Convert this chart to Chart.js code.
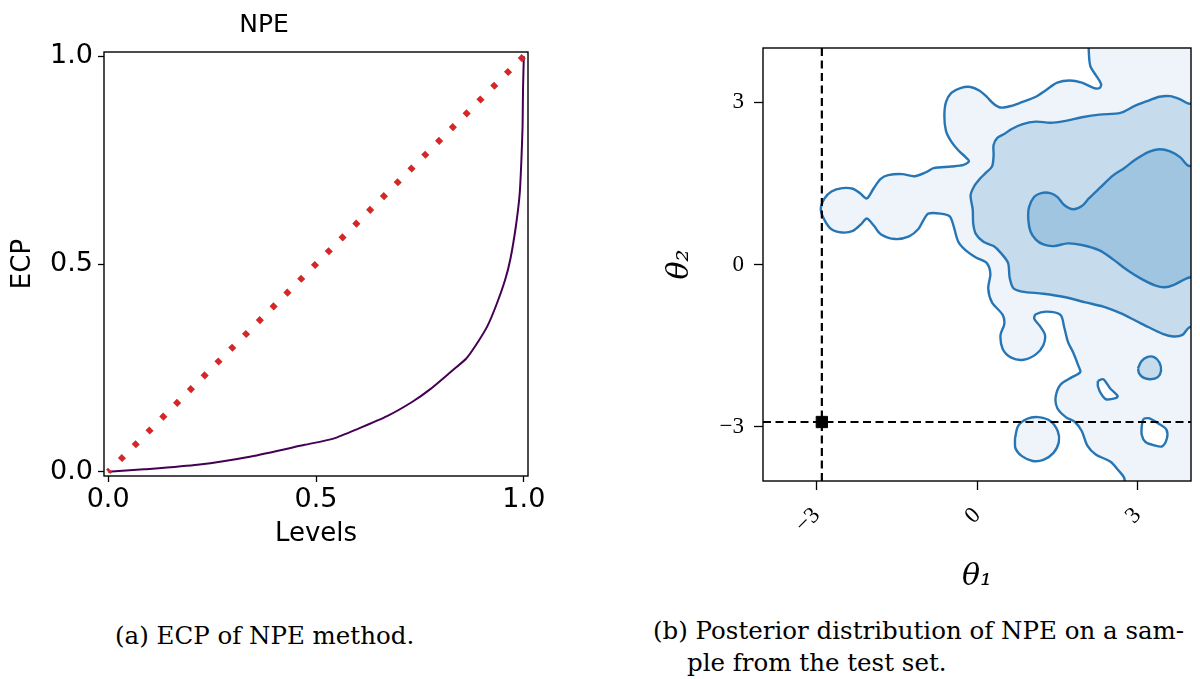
<!DOCTYPE html>
<html>
<head>
<meta charset="utf-8">
<script src="https://cdn.jsdelivr.net/npm/chart.js@4.4.1/dist/chart.umd.min.js"></script>
<style>
  body { margin: 0; background: #fff; width: 1200px; height: 679px; overflow: hidden; position: relative; }
  canvas { position: absolute; }
  #ecp { left: 0; top: 0; }
  #post { left: 600px; top: 0; }
  .cap { position: absolute; font-family: 'DejaVu Serif', serif; font-size: 24.5px; color: #000; line-height: 32px; white-space: nowrap; }
  #capB { padding-left: 34px; text-indent: -34px; }
</style>
</head>
<body>
<canvas id="ecp" width="560" height="560"></canvas>
<canvas id="post" width="600" height="600"></canvas>
<div class="cap" id="capA" style="left:115px; top:620px;">(a) ECP of NPE method.</div>
<div class="cap" id="capB" style="left:653px; top:615px;">(b) Posterior distribution of NPE on a sam-<br>ple from the test set.</div>
<script>
// ---- panel (a): expected coverage ----
const levels = [0, 0.086, 0.215, 0.344, 0.473, 0.542, 0.602, 0.671, 0.731, 0.775, 0.826, 0.861, 0.886,
                0.912, 0.934, 0.955, 0.968, 0.981, 0.990, 0.994, 0.997, 0.998, 1.0];
const ecp = [0, 0.006, 0.017, 0.037, 0.065, 0.080, 0.104, 0.134, 0.168, 0.199, 0.242, 0.272, 0.307,
             0.350, 0.402, 0.462, 0.514, 0.592, 0.669, 0.747, 0.833, 0.920, 1.0];
const diagonal = [0, 1];
const ecpTicks = [0, 0.5, 1];

// ---- panel (b): posterior contours, [theta1, theta2] ----
const outerRing = [[2.09,4.3],[2.09,3.93],[2.12,3.66],[2.22,3.50],[2.32,3.33],[2.29,3.26],[2.19,3.26],[1.96,3.36],
  [1.73,3.40],[1.50,3.36],[1.30,3.23],[1.10,3.10],[0.84,3.00],[0.64,2.93],[0.44,2.90],[0.31,2.97],[0.18,3.10],
  [0.05,3.21],[-0.12,3.28],[-0.31,3.26],[-0.48,3.17],[-0.58,3.00],[-0.61,2.74],[-0.58,2.47],[-0.48,2.27],
  [-0.35,2.11],[-0.21,1.98],[-0.15,1.91],[-0.25,1.84],[-0.48,1.81],[-0.81,1.78],[-0.94,1.71],[-1.17,1.63],
  [-1.40,1.67],[-1.66,1.65],[-1.80,1.58],[-1.93,1.41],[-2.06,1.22],[-2.19,1.32],[-2.32,1.40],[-2.52,1.41],
  [-2.72,1.35],[-2.85,1.22],[-2.92,1.02],[-2.85,0.82],[-2.72,0.65],[-2.52,0.59],[-2.32,0.62],[-2.16,0.75],
  [-2.06,0.85],[-1.93,0.72],[-1.80,0.56],[-1.53,0.47],[-1.27,0.52],[-1.10,0.65],[-1.00,0.82],[-0.91,0.94],
  [-0.68,0.94],[-0.51,0.89],[-0.44,0.72],[-0.35,0.42],[-0.21,0.26],[-0.02,0.13],[0.18,0.03],[0.25,-0.17],
  [0.21,-0.44],[0.28,-0.70],[0.48,-0.93],[0.51,-1.10],[0.44,-1.30],[0.48,-1.56],[0.64,-1.72],[0.87,-1.76],
  [1.10,-1.66],[1.24,-1.49],[1.27,-1.30],[1.17,-1.13],[1.07,-1.00],[1.10,-0.92],[1.30,-0.87],[1.56,-0.93],
  [1.63,-1.16],[1.70,-1.43],[1.80,-1.63],[1.89,-1.86],[1.93,-1.99],[1.76,-2.09],[1.56,-2.22],[1.47,-2.45],
  [1.50,-2.65],[1.66,-2.82],[1.83,-2.91],[1.96,-3.08],[2.06,-3.34],[2.22,-3.51],[2.49,-3.64],[2.65,-3.81],
  [2.75,-3.94],[2.84,-4.3],[4.3,-4.3],[4.3,4.3],[2.09,4.3]];
const outerIsland = [[0.71,-3.21],[0.77,-2.98],[0.94,-2.85],[1.14,-2.82],[1.37,-2.89],[1.51,-3.08],[1.53,-3.28],
  [1.43,-3.48],[1.24,-3.61],[1.04,-3.63],[0.84,-3.54],[0.72,-3.40],[0.71,-3.21]];
const holeA = [[2.26,-2.15],[2.36,-2.12],[2.49,-2.29],[2.63,-2.43],[2.59,-2.47],[2.41,-2.49],[2.32,-2.39],
  [2.26,-2.25],[2.26,-2.15]];
const holeB = [[3.11,-2.85],[3.21,-2.84],[3.41,-2.95],[3.54,-3.05],[3.55,-3.21],[3.46,-3.36],[3.31,-3.34],
  [3.15,-3.28],[3.08,-3.15],[3.08,-2.98],[3.11,-2.85]];
const midRing = [[4.3,3.05],[3.97,2.97],[3.80,3.05],[3.61,3.11],[3.41,3.10],[3.21,3.03],[2.95,2.93],[2.68,2.80],
  [2.29,2.77],[1.96,2.72],[1.63,2.65],[1.37,2.62],[1.10,2.64],[0.84,2.59],[0.64,2.50],[0.51,2.41],[0.38,2.34],
  [0.31,2.21],[0.31,2.01],[0.28,1.81],[0.15,1.68],[0.05,1.58],[-0.05,1.45],[-0.12,1.28],[-0.08,1.02],
  [-0.07,0.75],[-0.02,0.56],[0.12,0.42],[0.31,0.34],[0.44,0.22],[0.58,0.03],[0.61,-0.24],[0.68,-0.44],
  [0.84,-0.50],[1.24,-0.54],[1.63,-0.60],[2.03,-0.70],[2.36,-0.78],[2.68,-0.90],[2.95,-1.03],[3.21,-1.16],
  [3.47,-1.28],[3.67,-1.33],[3.84,-1.30],[3.97,-1.16],[4.3,-1.1],[4.3,3.05]];
const midIsland = [[3.01,-1.92],[3.07,-1.79],[3.18,-1.71],[3.31,-1.71],[3.41,-1.81],[3.44,-1.96],[3.38,-2.08],
  [3.24,-2.12],[3.11,-2.09],[3.03,-2.01],[3.01,-1.92]];
const innerRing = [[4.3,1.95],[3.97,1.82],[3.80,1.98],[3.61,2.09],[3.41,2.13],[3.21,2.08],[2.95,1.93],[2.75,1.78],
  [2.55,1.65],[2.29,1.41],[2.09,1.22],[1.96,1.08],[1.80,1.02],[1.63,1.10],[1.50,1.25],[1.37,1.32],[1.20,1.32],
  [1.07,1.25],[0.97,1.05],[0.96,0.82],[1.00,0.61],[1.10,0.46],[1.24,0.37],[1.43,0.34],[1.70,0.39],[1.96,0.36],
  [2.29,0.26],[2.55,0.09],[2.82,-0.11],[3.08,-0.27],[3.34,-0.39],[3.51,-0.42],[3.67,-0.38],[3.87,-0.28],
  [3.97,-0.24],[4.3,-0.2],[4.3,1.95]];
const trueTheta = [-2.9, -2.91];
const thetaRange = [-4, 4];
const thetaTicks = [-3, 0, 3];

const lineBlue = '#2676b6';
const fillOuter = '#eef4f9';
const fillMid = '#c6dbec';
const fillInner = '#a0c5e0';

const frame = {
  id: 'frame',
  afterDatasetsDraw(chart) {
    const a = chart.chartArea, ctx = chart.ctx;
    ctx.save();
    ctx.strokeStyle = '#000';
    ctx.lineWidth = 1.4;
    ctx.strokeRect(a.left, a.top, a.right - a.left, a.bottom - a.top);
    ctx.restore();
  }
};

const toPts = ring => ring.map(p => ({x: p[0], y: p[1]}));

// fixed axis box sizes so the plot areas land where they should
const fixBox = size => s => {
  if (s.isHorizontal()) s.height = size; else s.width = size;
  s.paddingLeft = s.paddingRight = s.paddingTop = s.paddingBottom = 0;
};

// panel (a)
const sans = 'DejaVu Sans';
const ecpAxis = (title, pad, size, tickPad) => ({
  type: 'linear', min: -0.01, max: 1.01,
  afterBuildTicks: s => { s.ticks = ecpTicks.map(v => ({value: v})); },
  afterFit: fixBox(size),
  ticks: { font: {family: sans, size: 27}, color: '#000', padding: tickPad, callback: v => v.toFixed(1) },
  grid: { drawOnChartArea: false, drawTicks: true, tickLength: 6, tickColor: '#000', tickWidth: 1.3 },
  border: { display: false },
  title: { display: true, text: title, font: {family: sans, size: 26}, color: '#000', padding: pad }
});

new Chart(document.getElementById('ecp'), {
  type: 'scatter',
  data: {
    datasets: [
      {
        data: diagonal.map(v => ({x: v, y: v})),
        showLine: true, borderColor: '#d62728', borderWidth: 6,
        borderDash: [5.5, 14], borderDashOffset: 2.75, pointRadius: 0, order: 1
      },
      {
        data: levels.map((v, i) => ({x: v, y: ecp[i]})),
        showLine: true, borderColor: '#440154', borderWidth: 2, pointRadius: 0,
        tension: 0.2, order: 2
      }
    ]
  },
  options: {
    responsive: false, animation: false, devicePixelRatio: 1,
    layout: { padding: {left: 0, right: 32, top: 2, bottom: 0} },
    plugins: {
      legend: { display: false }, tooltip: { enabled: false },
      title: { display: true, text: 'NPE', font: {family: sans, size: 25, weight: 'normal'}, color: '#000',
               padding: {top: 8, bottom: 12} }
    },
    scales: {
      x: ecpAxis('Levels', {top: 2, bottom: 10}, 84, 2),
      y: ecpAxis('ECP', {top: 8, bottom: 4}, 104, 5)
    }
  },
  plugins: [frame]
});

// panel (b)
const serif = 'Liberation Serif';
const thetaAxis = (title, rot, pad, size, tickPad) => ({
  type: 'linear', min: thetaRange[0], max: thetaRange[1],
  afterBuildTicks: s => { s.ticks = thetaTicks.map(v => ({value: v})); },
  afterFit: fixBox(size),
  ticks: {
    font: {family: serif, size: 23}, color: '#000', padding: tickPad,
    minRotation: rot, maxRotation: rot,
    callback: v => v < 0 ? '\u2212' + Math.abs(v) : String(v)
  },
  grid: { drawOnChartArea: false, drawTicks: true, tickLength: 9, tickColor: '#000', tickWidth: 1.3 },
  border: { display: false },
  title: { display: true, text: title, font: {family: 'DejaVu Serif', size: 30, style: 'italic'}, color: '#000', padding: pad }
});

const contour = (ring, fillColor, order) => ({
  data: toPts(ring), showLine: true, fill: 'shape', backgroundColor: fillColor,
  borderColor: lineBlue, borderWidth: 2.4, pointRadius: 0, tension: 0.3, order: order, clip: 0
});

new Chart(document.getElementById('post'), {
  type: 'scatter',
  data: {
    datasets: [
      contour(outerRing, fillOuter, 10),
      contour(outerIsland, fillOuter, 9),
      contour(holeA, '#ffffff', 8),
      contour(holeB, '#ffffff', 8),
      contour(midRing, fillMid, 7),
      contour(midIsland, fillMid, 6),
      contour(innerRing, fillInner, 5),
      {
        data: [{x: trueTheta[0], y: thetaRange[0]}, {x: trueTheta[0], y: thetaRange[1]}],
        showLine: true, borderColor: '#000', borderWidth: 2.2, borderDash: [8, 4.5], pointRadius: 0, order: 3
      },
      {
        data: [{x: thetaRange[0], y: trueTheta[1]}, {x: thetaRange[1], y: trueTheta[1]}],
        showLine: true, borderColor: '#000', borderWidth: 2.2, borderDash: [8, 4.5], pointRadius: 0, order: 3
      },
      {
        data: [{x: trueTheta[0], y: trueTheta[1]}],
        pointStyle: 'rect', pointRadius: 8, backgroundColor: '#000', borderColor: '#000', order: 1
      }
    ]
  },
  options: {
    responsive: false, animation: false, devicePixelRatio: 1,
    elements: { line: { capBezierPoints: false } },
    layout: { padding: {left: 0, right: 2, top: 48, bottom: 0} },
    plugins: { legend: { display: false }, tooltip: { enabled: false } },
    scales: {
      x: thetaAxis('θ₁', 45, {top: 4, bottom: 5}, 119, 12),
      y: thetaAxis('θ₂', 0, {top: 62, bottom: 4}, 163, 10)
    }
  },
  plugins: [frame]
});
</script>
</body>
</html>
